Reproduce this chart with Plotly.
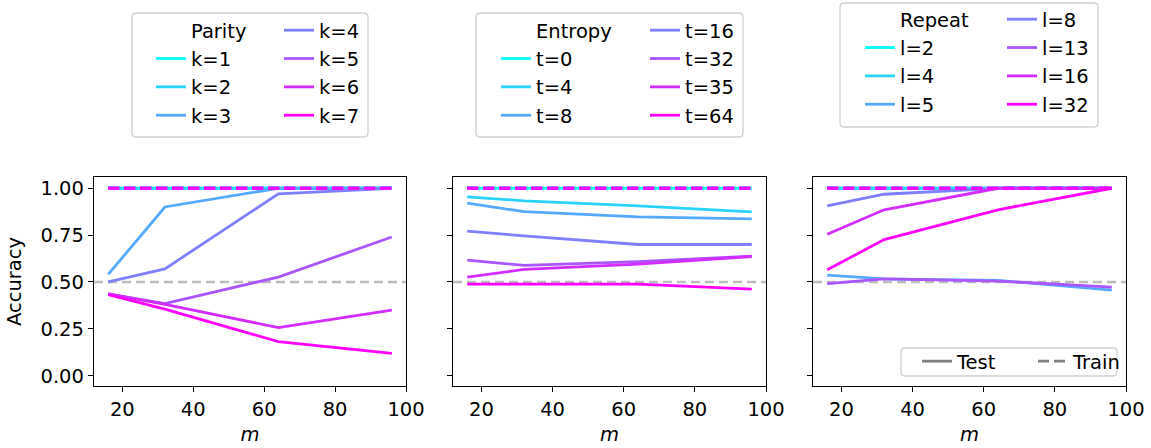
import plotly.graph_objects as go

W, H = 1151, 448
FONT = "DejaVu Sans"
FS = 19.5
LW = 2.8

# ---------------- data ----------------
M_VALUES = [16, 32, 64, 96]
COLORS = ["#00ffff", "#2ad4ff", "#55aaff", "#807fff", "#aa55ff", "#d42bff", "#ff00ff"]

PARITY_TITLE = "Parity"
PARITY_LABELS = ["k=1", "k=2", "k=3", "k=4", "k=5", "k=6", "k=7"]
PARITY_TEST = [
    [1.00, 1.00, 1.00, 1.00],
    [1.00, 1.00, 1.00, 1.00],
    [0.54, 0.90, 1.00, 1.00],
    [0.50, 0.57, 0.97, 1.00],
    [0.437, 0.385, 0.526, 0.74],
    [0.437, 0.38, 0.257, 0.35],
    [0.433, 0.355, 0.182, 0.119],
]
PARITY_TRAIN = [[1.0, 1.0, 1.0, 1.0] for _ in range(7)]

ENTROPY_TITLE = "Entropy"
ENTROPY_LABELS = ["t=0", "t=4", "t=8", "t=16", "t=32", "t=35", "t=64"]
ENTROPY_TEST = [
    [1.00, 1.00, 1.00, 1.00],
    [0.954, 0.933, 0.906, 0.874],
    [0.920, 0.875, 0.847, 0.837],
    [0.771, 0.746, 0.700, 0.700],
    [0.616, 0.589, 0.609, 0.638],
    [0.526, 0.567, 0.595, 0.636],
    [0.488, 0.488, 0.488, 0.462],
]
ENTROPY_TRAIN = [[1.0, 1.0, 1.0, 1.0] for _ in range(7)]

REPEAT_TITLE = "Repeat"
REPEAT_LABELS = ["l=2", "l=4", "l=5", "l=8", "l=13", "l=16", "l=32"]
REPEAT_TEST = [
    [1.00, 1.00, 1.00, 1.00],
    [1.00, 1.00, 1.00, 1.00],
    [0.537, 0.517, 0.509, 0.456],
    [0.906, 0.968, 1.00, 1.00],
    [0.491, 0.516, 0.505, 0.472],
    [0.755, 0.885, 1.00, 1.00],
    [0.565, 0.726, 0.885, 1.00],
]
REPEAT_TRAIN = [[1.0, 1.0, 1.0, 1.0] for _ in range(7)]

CHANCE = 0.5
X_TICKS = [20, 40, 60, 80, 100]
Y_TICKS = [0.0, 0.25, 0.5, 0.75, 1.0]
Y_TICK_TEXT = ["0.00", "0.25", "0.50", "0.75", "1.00"]

# ---------------- layout geometry (pixels) ----------------
PANELS_PX = [(94, 406), (453, 766), (813, 1126)]
PANEL_TOP, PANEL_BOTTOM = 177, 386
LEG_BOX = [(132, 13, 368, 137), (476, 13, 743, 137), (840, 3, 1098, 127)]
LEG_TEXT_X = [(191, 319), (536, 685), (900, 1042)]
LEG_TOP = [11, 11, 0]


def px_x(p):
    return p / W


def px_y(p):
    return 1 - p / H


fig = go.Figure()

panels = [
    (PARITY_TITLE, PARITY_LABELS, PARITY_TEST, PARITY_TRAIN),
    (ENTROPY_TITLE, ENTROPY_LABELS, ENTROPY_TEST, ENTROPY_TRAIN),
    (REPEAT_TITLE, REPEAT_LABELS, REPEAT_TEST, REPEAT_TRAIN),
]

for p, (title, labels, test, train) in enumerate(panels):
    xa = "x" if p == 0 else f"x{p+1}"
    ya = "y" if p == 0 else f"y{p+1}"
    leg_a = "legend" if p == 0 else f"legend{2*p+1}"
    leg_b = f"legend{2*p+2}"
    # title pseudo entry
    fig.add_trace(go.Scatter(x=[None], y=[None], mode="lines", name=title,
                             line=dict(color="rgba(0,0,0,0)", width=LW),
                             legend=leg_a, xaxis=xa, yaxis=ya, hoverinfo="skip"))
    for i, lab in enumerate(labels):
        leg = leg_a if i < 3 else leg_b
        fig.add_trace(go.Scatter(x=M_VALUES, y=test[i], mode="lines", name=lab,
                                 line=dict(color=COLORS[i], width=LW),
                                 legend=leg, xaxis=xa, yaxis=ya))
        fig.add_trace(go.Scatter(x=M_VALUES, y=train[i], mode="lines", name=lab + " train",
                                 line=dict(color=COLORS[i], width=LW, dash="11px,5px"),
                                 showlegend=False, xaxis=xa, yaxis=ya))

# Test / Train style legend
fig.add_trace(go.Scatter(x=[None], y=[None], mode="lines", name="Test",
                         line=dict(color="#808080", width=LW),
                         legend="legend7", xaxis="x3", yaxis="y3"))
fig.add_trace(go.Scatter(x=[None], y=[None], mode="lines", name="Train",
                         line=dict(color="#808080", width=LW, dash="11px,5px"),
                         legend="legend7", xaxis="x3", yaxis="y3"))

axis_common = dict(showline=True, mirror=True, linecolor="black", linewidth=1.3,
                   ticks="outside", ticklen=5, tickwidth=1.3, tickcolor="black",
                   showgrid=False, zeroline=False, automargin=False,
                   tickfont=dict(family=FONT, size=FS, color="black"))

layout = dict(width=W, height=H, margin=dict(l=0, r=0, t=0, b=0),
              paper_bgcolor="white", plot_bgcolor="white",
              font=dict(family=FONT, size=FS, color="black"))

shapes = []
for p, (x0, x1) in enumerate(PANELS_PX):
    suf = "" if p == 0 else str(p + 1)
    layout["xaxis" + suf] = dict(axis_common, domain=[px_x(x0), px_x(x1)], range=[12, 100],
                                 tickvals=X_TICKS, anchor="y" + suf,
                                 title=dict(text="<i>m</i>", font=dict(family=FONT, size=FS), standoff=7))
    ydict = dict(axis_common, domain=[px_y(PANEL_BOTTOM), px_y(PANEL_TOP)], range=[-0.055, 1.06],
                 tickvals=Y_TICKS, ticktext=Y_TICK_TEXT, anchor="x" + suf,
                 showticklabels=(p == 0))
    if p == 0:
        ydict["title"] = dict(text="Accuracy", font=dict(family=FONT, size=FS), standoff=13)
    layout["yaxis" + suf] = ydict
    shapes.append(dict(type="line", xref=f"x{suf} domain", yref="y" + suf, x0=0, x1=1,
                       y0=CHANCE, y1=CHANCE, layer="below",
                       line=dict(color="#bdbdbd", width=2.5, dash="9px,5px")))


def rounded_box(x0, y0, x1, y1, r=4):
    def X(v):
        return px_x(v)

    def Y(v):
        return px_y(v)
    return (f"M {X(x0+r)},{Y(y0)} L {X(x1-r)},{Y(y0)} Q {X(x1)},{Y(y0)} {X(x1)},{Y(y0+r)} "
            f"L {X(x1)},{Y(y1-r)} Q {X(x1)},{Y(y1)} {X(x1-r)},{Y(y1)} "
            f"L {X(x0+r)},{Y(y1)} Q {X(x0)},{Y(y1)} {X(x0)},{Y(y1-r)} "
            f"L {X(x0)},{Y(y0+r)} Q {X(x0)},{Y(y0)} {X(x0+r)},{Y(y0)} Z")


for (bx0, by0, bx1, by1) in LEG_BOX + [(901, 348, 1117, 376)]:
    shapes.append(dict(type="path", xref="paper", yref="paper",
                       path=rounded_box(bx0, by0, bx1, by1),
                       line=dict(color="#d0d0d0", width=1.3),
                       fillcolor="rgba(255,255,255,0.8)", layer="above"))
layout["shapes"] = shapes

leg_common = dict(bgcolor="rgba(0,0,0,0)", borderwidth=0, xanchor="left", yanchor="top",
                  font=dict(family=FONT, size=FS, color="black"), traceorder="normal",
                  orientation="v")
for p in range(3):
    la = "legend" if p == 0 else f"legend{2*p+1}"
    lb = f"legend{2*p+2}"
    tx_a, tx_b = LEG_TEXT_X[p]
    layout[la] = dict(leg_common, x=px_x(tx_a - 40), y=px_y(LEG_TOP[p]))
    layout[lb] = dict(leg_common, x=px_x(tx_b - 40), y=px_y(LEG_TOP[p]))

layout["legend7"] = dict(leg_common, orientation="h", x=px_x(917), y=px_y(342),
                         entrywidth=71, entrywidthmode="pixels")

fig.update_layout(**layout)
fig.write_html("out.html", post_script="document.body.style.margin='0';",
               config={"displayModeBar": False})
